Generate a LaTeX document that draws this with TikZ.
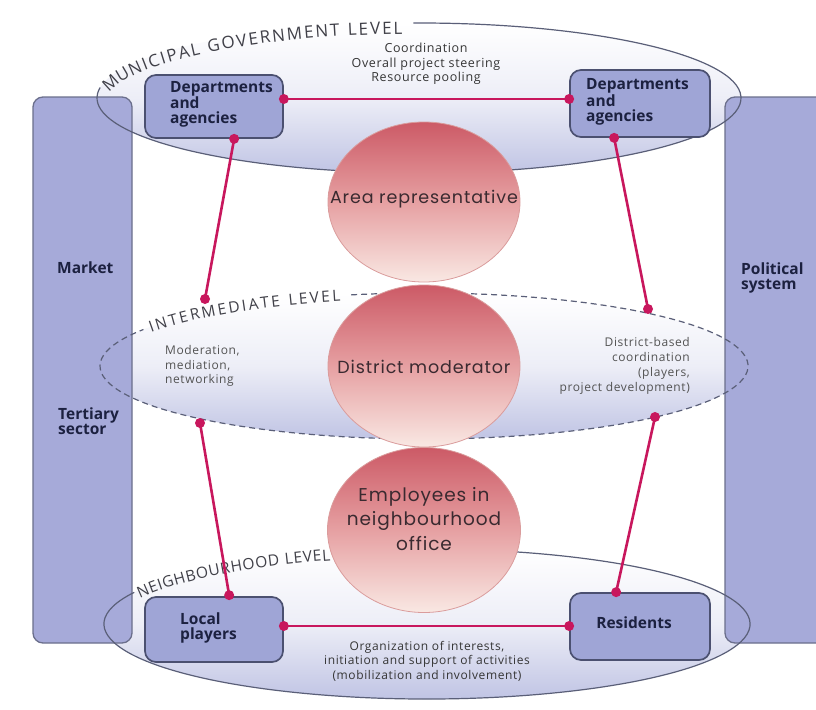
\documentclass[tikz,border=0pt]{standalone}
\usepackage{fontspec}
\setmainfont{Open Sans}
\newfontfamily\circfont{Poppins}[LetterSpace=5]
\newfontfamily\descfont{Open Sans}[LetterSpace=5]
\newfontfamily\lvlfont{Open Sans}
\usetikzlibrary{shapes.geometric,decorations.text}
\definecolor{magline}{HTML}{C8175D}
\definecolor{tallfill}{HTML}{A6AAD9}
\definecolor{tallline}{HTML}{6B6F8C}
\definecolor{boxfill}{HTML}{9FA5D6}
\definecolor{boxline}{HTML}{4B5070}
\definecolor{boxtext}{HTML}{1C2140}
\definecolor{ellmid}{HTML}{EDEEF7}
\definecolor{ellbot}{HTML}{C0C4E4}
\definecolor{ellline}{HTML}{5A5F78}
\definecolor{circtop}{HTML}{CC5A66}
\definecolor{circmid}{HTML}{E6A0A2}
\definecolor{circbot}{HTML}{F9E8E3}
\definecolor{circline}{HTML}{DA9C9C}
\definecolor{circtext}{HTML}{3A2A30}
\definecolor{desctext}{HTML}{353535}
\definecolor{lvltext}{HTML}{404048}
\begin{document}
\begin{tikzpicture}[x=1pt,y=1pt,
  tallrect/.style={fill=tallfill, draw=tallline, line width=1.3pt, rounded corners=10pt},
  box/.style={rectangle, fill=boxfill, draw=boxline, line width=1.7pt, rounded corners=11pt, inner sep=0pt},
  boxlabel/.style={font=\fontsize{15.5}{15}\selectfont\bfseries, text=boxtext, align=left, inner sep=0pt},
  circ/.style={ellipse, top color=circtop, bottom color=circbot, middle color=circmid, draw=circline, line width=0.8pt, inner sep=0pt},
  circlabel/.style={font=\circfont\fontsize{18.5}{24.5}\selectfont, text=circtext, align=center, inner sep=0pt},
  desc/.style={font=\descfont\fontsize{12.5}{14.5}\selectfont, text=desctext, inner sep=0pt},
  conn/.style={draw=magline, line width=2.6pt},
  dot/.style={fill=magline},
  ellout/.style={draw=ellline, line width=1.2pt},
  ellfill/.style={top color=white, bottom color=ellbot, middle color=ellmid}
]
\clip (0,0) rectangle (816,-709);
\fill[white] (0,0) rectangle (816,-709);
% ellipse fills
\path[ellfill] (419,-98) ellipse[x radius=322, y radius=75];
\path[ellfill] (424,-366) ellipse[x radius=324, y radius=73];
\path[ellfill] (427,-624) ellipse[x radius=323, y radius=75];
% tall rectangles
\draw[tallrect] (33,-97) rectangle (132,-643);
\draw[tallrect] (725,-97) rectangle (840,-643);
% ellipse outlines with gaps for labels
\draw[ellout] (419,-98) ++(91:322 and 75) arc[start angle=91, end angle=-188, x radius=322, y radius=75];
\draw[ellout, dash pattern=on 6pt off 4pt] (424,-366) ++(103:324 and 73) arc[start angle=103, end angle=-210, x radius=324, y radius=73];
\draw[ellout] (427,-624) ++(155:323 and 75) arc[start angle=155, end angle=460, x radius=323, y radius=75];
% level labels
\path[decorate, decoration={text along path, text align={fit to path}, raise=-11pt,
  text={|\lvlfont\fontsize{17}{17}\selectfont\color{lvltext}|MUNICIPAL GOVERNMENT LEVEL}}]
  (419,-98) ++(170:322 and 75) arc[start angle=170, end angle=93, x radius=322, y radius=75];
\path[decorate, decoration={text along path, text align={fit to path}, raise=-5.5pt,
  text={|\lvlfont\fontsize{15.5}{15.5}\selectfont\color{lvltext}|INTERMEDIATE LEVEL}}]
  (424,-366) ++(148:324 and 73) arc[start angle=148, end angle=105, x radius=324, y radius=73];
\path[decorate, decoration={text along path, text align={fit to path}, raise=-8pt,
  text={|\lvlfont\fontsize{15.5}{15.5}\selectfont\color{lvltext}|NEIGHBOURHOOD LEVEL}}]
  (427,-624) ++(154:323 and 75) arc[start angle=154, end angle=107.5, x radius=323, y radius=75];
% circles
\node[circ, minimum width=192pt, minimum height=160pt] (ar) at (424,-202) {};
\node[circ, minimum width=192pt, minimum height=162pt] (dm) at (424,-366) {};
\node[circ, minimum width=193pt, minimum height=165pt] (em) at (424,-530) {};
\node[circlabel, font=\circfont\fontsize{17.5}{20}\selectfont] (arT) at ([yshift=3pt]ar.center) {Area representative};
\node[circlabel, font=\circfont\fontsize{17.5}{20}\selectfont] (dmT) at ([yshift=-1pt]dm.center) {District moderator};
\node[circlabel] (emT) at ([yshift=11pt]em.center) {Employees in\\neighbourhood\\office};
% boxes
\node[box, minimum width=138pt, minimum height=63pt] (tl) at (214,-106.5) {};
\node[box, minimum width=140pt, minimum height=67pt] (tr) at (640,-103.5) {};
\node[box, minimum width=138pt, minimum height=65pt] (lp) at (214,-629.5) {};
\node[box, minimum width=140pt, minimum height=67pt] (rs) at (640,-626.5) {};
% connector endpoints
\coordinate (tlE) at ([yshift=7.5pt]tl.east);
\coordinate (trW) at ([yshift=4.5pt]tr.west);
\coordinate (tlS) at ([xshift=90pt]tl.south west);
\coordinate (trS) at ([xshift=45pt]tr.south west);
\coordinate (lpN) at ([xshift=85pt,yshift=1pt]lp.north west);
\coordinate (rsN) at ([xshift=47pt]rs.north west);
\coordinate (lpE) at ([yshift=3.5pt]lp.east);
\coordinate (rsW) at ([yshift=0.5pt]rs.west);
\coordinate (m1) at (205,-299);
\coordinate (m2) at (648,-309);
\coordinate (m3) at (200,-423);
\coordinate (m4) at (655,-417);
% connectors
\draw[conn] (tlE) -- (trW);
\draw[conn] (tlS) -- (m1);
\draw[conn] (trS) -- (m2);
\draw[conn] (m3) -- (lpN);
\draw[conn] (m4) -- (rsN);
\draw[conn] (lpE) -- (rsW);
\foreach \p in {tlE,trW,tlS,trS,lpN,rsN,lpE,rsW,m1,m2,m3,m4}
  \fill[dot] (\p) circle[radius=5];
% box labels
\node[boxlabel, anchor=west] (tlT) at (170,-104.5) {Departments\\and\\agencies};
\node[boxlabel, anchor=west] (trT) at (586,-102) {Departments\\and\\agencies};
\node[boxlabel, anchor=west] (lpT) at (180,-628) {Local\\players};
\node[boxlabel] (rsT) at (634,-623) {Residents};
\node[boxlabel, anchor=west] (mkT) at (57,-268) {Market};
\node[boxlabel, anchor=west] (tsT) at (58,-421.5) {Tertiary\\sector};
\node[boxlabel, anchor=west] (psT) at (741,-278) {Political\\system};
% descriptions
\node[desc, align=center] (topD) at (426,-64) {Coordination\\Overall project steering\\Resource pooling};
\node[desc, align=left, anchor=west, text=desctext!85, font=\descfont\fontsize{12}{14.5}\selectfont] (midL) at (165,-366) {Moderation,\\mediation,\\networking};
\node[desc, align=right, anchor=east, text=desctext!85, font=\descfont\fontsize{12}{14.8}\selectfont] (midR) at (690,-366) {District-based\\coordination\\(players,\\project development)};
\node[desc, align=center, font=\descfont\fontsize{12}{14.5}\selectfont] (botD) at (427,-661) {Organization of interests,\\initiation and support of activities\\(mobilization and involvement)};
\end{tikzpicture}
\end{document}
